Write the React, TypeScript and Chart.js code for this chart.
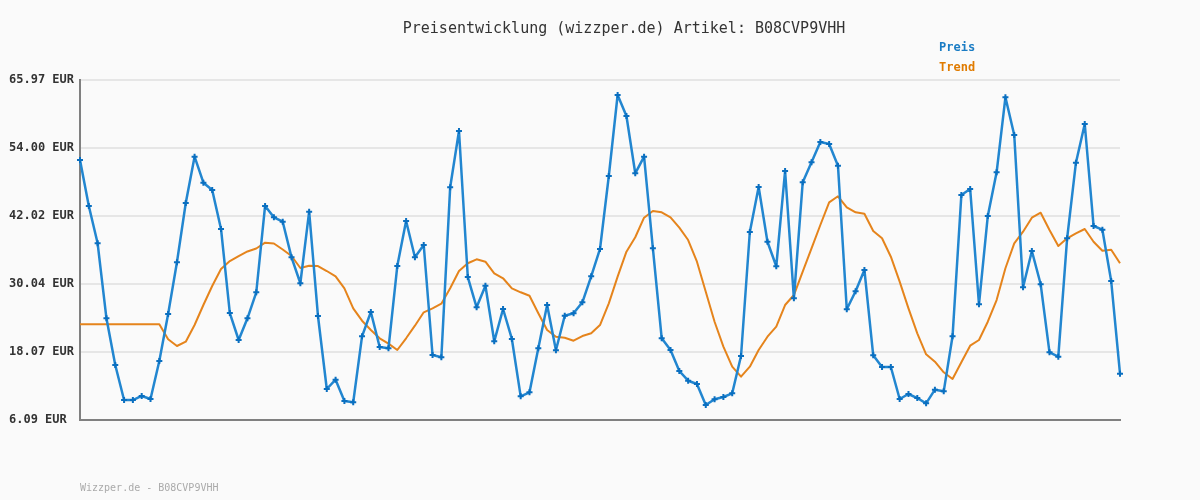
import React, { useEffect, useRef } from 'react';
import { Chart, registerables } from 'chart.js';

Chart.register(...registerables);

const TITLE = 'Preisentwicklung (wizzper.de) Artikel: B08CVP9VHH';
const FOOTER = 'Wizzper.de - B08CVP9VHH';
const SERIES_LABELS = ['Preis', 'Trend'];
const SERIES_COLORS = ['#2286d0', '#e5841c'];
const LEGEND_COLORS = ['#1a7cc4', '#e07b00'];

const priceValues = [
  51.88, 43.78, 37.21, 24.0, 15.78, 9.61, 9.61, 10.32, 9.79, 16.48,
  24.76, 33.86, 44.31, 52.46, 47.88, 46.6, 39.73, 24.93, 20.18, 24.0,
  28.58, 43.78, 41.79, 41.01, 34.74, 30.17, 42.78, 24.41, 11.55, 13.19,
  9.44, 9.21, 20.83, 25.11, 18.95, 18.72, 33.21, 41.14, 34.74, 36.91,
  17.54, 17.13, 47.07, 56.99, 31.27, 25.94, 29.74, 19.95, 25.64, 20.36,
  10.26, 10.97, 18.72, 26.34, 18.37, 24.46, 24.88, 26.82, 31.4, 36.21,
  49.06, 63.33, 59.63, 49.54, 52.46, 36.33, 20.48, 18.42, 14.72, 13.01,
  12.43, 8.73, 9.74, 10.14, 10.79, 17.36, 39.2, 47.13, 37.49, 33.16,
  49.94, 27.52, 47.95, 51.48, 55.05, 54.7, 50.88, 25.59, 28.76, 32.51,
  17.48, 15.42, 15.42, 9.79, 10.67, 9.96, 9.03, 11.43, 11.14, 20.83,
  45.72, 46.77, 26.47, 42.02, 49.71, 62.92, 56.28, 29.46, 35.85, 29.99,
  18.01, 17.24, 38.09, 51.41, 58.22, 40.26, 39.61, 30.57, 14.24,
];

const trendValues = [
  22.94, 22.94, 22.94, 22.94, 22.94, 22.94, 22.94, 22.94, 22.94, 22.94,
  20.3, 19.12, 19.88, 22.82, 26.34, 29.69, 32.68, 34.09, 34.97, 35.77,
  36.29, 37.32, 37.18, 36.12, 34.97, 32.86, 33.26, 33.21, 32.33, 31.4,
  29.28, 25.76, 23.58, 21.94, 20.48, 19.53, 18.42, 20.48, 22.7, 25.06,
  25.76, 26.57, 29.28, 32.33, 33.69, 34.39, 33.97, 31.93, 31.05, 29.28,
  28.58, 27.98, 24.88, 21.94, 20.76, 20.58, 20.06, 20.88, 21.36, 22.82,
  26.64, 31.33, 35.73, 38.27, 41.72, 42.9, 42.67, 41.79, 39.96, 37.79,
  33.97, 28.69, 23.4, 19.0, 15.48, 13.72, 15.48, 18.42, 20.76, 22.52,
  26.34, 28.1, 32.21, 36.33, 40.43, 44.43, 45.49, 43.55, 42.67, 42.42,
  39.38, 38.09, 34.85, 30.45, 25.76, 21.36, 17.66, 16.36, 14.49, 13.31,
  16.25, 19.18, 20.18, 23.4, 27.22, 32.81, 37.21, 39.25, 41.72, 42.6,
  39.55, 36.73, 38.09, 38.97, 39.73, 37.49, 35.91, 36.08, 33.69,
];

const xLabels = priceValues.map((_, i) => String(i + 1));
const yTicks = [6.09, 18.07, 30.04, 42.02, 54.0, 65.97];

const MONO = '"DejaVu Sans Mono", monospace';

const decorPlugin = {
  id: 'decor',
  beforeDraw(chart: any) {
    const ctx = chart.ctx;
    ctx.save();
    ctx.fillStyle = '#fafafa';
    ctx.fillRect(0, 0, chart.width, chart.height);
    ctx.restore();
  },
  afterDraw(chart: any) {
    const ctx = chart.ctx;
    ctx.save();
    ctx.textBaseline = 'alphabetic';
    ctx.fillStyle = '#333333';
    ctx.font = `15px ${MONO}`;
    ctx.textAlign = 'center';
    ctx.fillText(TITLE, 624, 33);

    ctx.textAlign = 'left';
    ctx.font = `bold 12px ${MONO}`;
    ctx.fillStyle = LEGEND_COLORS[0];
    ctx.fillText(SERIES_LABELS[0], 939, 51);
    ctx.fillStyle = LEGEND_COLORS[1];
    ctx.fillText(SERIES_LABELS[1], 939, 71);

    ctx.font = `10px ${MONO}`;
    ctx.fillStyle = '#aaaaaa';
    ctx.fillText(FOOTER, 80, 491);
    ctx.restore();
  },
};

export default function App() {
  const ref = useRef<HTMLCanvasElement | null>(null);

  useEffect(() => {
    if (!ref.current) return;
    const chart = new Chart(ref.current, {
      type: 'line',
      data: {
        labels: xLabels,
        datasets: [
          {
            label: SERIES_LABELS[0],
            data: priceValues,
            borderColor: SERIES_COLORS[0],
            backgroundColor: SERIES_COLORS[0],
            borderWidth: 2.5,
            borderJoinStyle: 'round',
            pointStyle: 'cross',
            pointRadius: 3,
            pointBorderWidth: 2,
            pointBorderColor: '#0a6fc0',
            pointBackgroundColor: '#0a6fc0',
            tension: 0,
            clip: false as any,
          },
          {
            label: SERIES_LABELS[1],
            data: trendValues,
            borderColor: SERIES_COLORS[1],
            backgroundColor: SERIES_COLORS[1],
            borderWidth: 2,
            borderJoinStyle: 'round',
            pointRadius: 0,
            tension: 0,
            clip: false as any,
          },
        ],
      },
      options: {
        animation: false,
        responsive: false,
        devicePixelRatio: 1,
        layout: { padding: { top: 80, right: 80, bottom: 80, left: 9 } },
        plugins: {
          legend: { display: false },
          title: { display: false },
          tooltip: { enabled: false },
        },
        scales: {
          x: {
            type: 'category',
            grid: { display: false, drawTicks: false },
            border: { display: true, color: '#808080', width: 2 },
            ticks: { display: false },
            afterFit(scale: any) {
              scale.height = 0;
            },
          },
          y: {
            min: yTicks[0],
            max: yTicks[yTicks.length - 1],
            afterBuildTicks(scale: any) {
              scale.ticks = yTicks.map((v) => ({ value: v }));
            },
            afterFit(scale: any) {
              scale.width = 71;
            },
            grid: {
              color: '#e6e6e6',
              lineWidth: 2,
              drawTicks: false,
            },
            border: { display: true, color: '#808080', width: 2 },
            ticks: {
              crossAlign: 'far',
              padding: 0,
              color: '#333333',
              font: { family: 'DejaVu Sans Mono', size: 12, weight: 'bold' },
              callback: (v: any) => Number(v).toFixed(2) + ' EUR',
            },
          },
        },
      },
      plugins: [decorPlugin],
    } as any);
    return () => chart.destroy();
  }, []);

  return (
    <div style={{ position: 'absolute', left: 0, top: 0, width: 1200, height: 500, background: '#fafafa' }}>
      <canvas ref={ref} width={1200} height={500} style={{ display: 'block' }} />
    </div>
  );
}
